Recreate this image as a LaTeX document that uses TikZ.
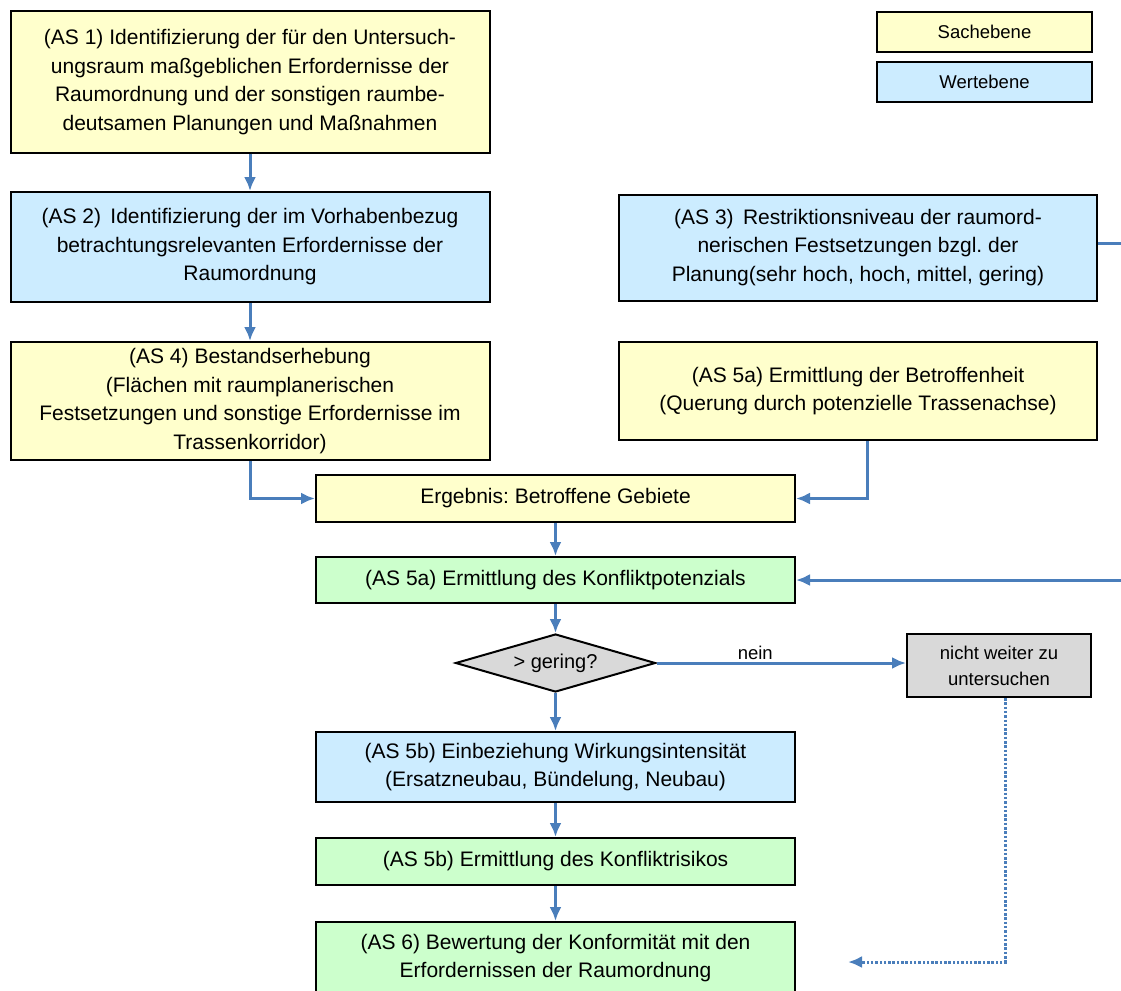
\documentclass[tikz,border=0pt]{standalone}
\usepackage{fontspec}
\setmainfont{Liberation Sans}
\usepackage{xcolor}
\usetikzlibrary{arrows.meta,shapes.geometric,positioning,calc}

\definecolor{sachgelb}{HTML}{FFFFCC}
\definecolor{wertblau}{HTML}{CCECFF}
\definecolor{ergruen}{HTML}{CCFFCC}
\definecolor{kastengrau}{HTML}{D9D9D9}
\definecolor{pfeilblau}{HTML}{4A7EBB}
\frenchspacing

\begin{document}
\begin{tikzpicture}[x=1pt,y=-1pt,>={Latex[length=14pt,width=12pt]},
  box/.style={draw=black,line width=2pt,align=center,inner sep=2pt,
    font=\fontsize{21}{28.5}\selectfont},
  klein/.style={font=\fontsize{18.5}{26}\selectfont},
  sach/.style={box,fill=sachgelb},
  wert/.style={box,fill=wertblau},
  ergebnis/.style={box,fill=ergruen},
  pfeil/.style={->,draw=pfeilblau,line width=3pt}]
  \clip (0,0) rectangle (1121,990);
  \useasboundingbox (0,0) rectangle (1121,990);
  % Legende
  \node[sach,klein,minimum width=215,minimum height=40] (legsach) at (984.5,32) {Sachebene};
  \node[wert,klein,minimum width=215,minimum height=40] (legwert) at (984.5,82) {Wertebene};
  % linke Spalte
  \node[sach,minimum width=479,minimum height=141] (as1) at (250,82)
    {(AS 1) Identifizierung der für den Untersuch-\\ungsraum maßgeblichen Erfordernisse der\\Raumordnung und der sonstigen raumbe-\\deutsamen Planungen und Maßnahmen};
  \node[wert,minimum width=479,minimum height=110] (as2) at (250,247)
    {(AS 2)\, Identifizierung der im Vorhabenbezug\\betrachtungsrelevanten Erfordernisse der\\Raumordnung};
  \node[sach,minimum width=479,minimum height=118] (as4) at (250,401)
    {(AS 4) Bestandserhebung\\(Flächen mit raumplanerischen\\Festsetzungen und sonstige Erfordernisse im\\Trassenkorridor)};
  % rechte Spalte
  \node[wert,minimum width=478,minimum height=106] (as3) at (858,247.5)
    {(AS 3)\, Restriktionsniveau der raumord-\\nerischen Festsetzungen bzgl. der\\Planung(sehr hoch, hoch, mittel, gering)};
  \node[sach,minimum width=478,minimum height=98] (as5a) at (858,391)
    {(AS 5a) Ermittlung der Betroffenheit\\(Querung durch potenzielle Trassenachse)};
  % mittlere Kette
  \node[sach,minimum width=479,minimum height=47] (erg) at (555.5,498.5) {Ergebnis: Betroffene Gebiete};
  \node[ergebnis,minimum width=479,minimum height=46] (konf) at (555.5,580) {(AS 5a) Ermittlung des Konfliktpotenzials};
  \node[draw=black,line width=2pt,fill=kastengrau,diamond,aspect=3.4,inner sep=0pt,
    minimum width=200,minimum height=58,font=\fontsize{20}{26}\selectfont] (raute) at (555.5,663) {> gering?};
  \node[box,klein,fill=kastengrau,minimum width=184,minimum height=63] (nicht) at (999,665.5)
    {nicht weiter zu\\untersuchen};
  \node[wert,minimum width=479,minimum height=70] (as5b) at (555.5,767)
    {(AS 5b) Einbeziehung Wirkungsintensität\\(Ersatzneubau, Bündelung, Neubau)};
  \node[ergebnis,minimum width=479,minimum height=47] (risiko) at (555.5,861.5) {(AS 5b) Ermittlung des Konfliktrisikos};
  \node[ergebnis,minimum width=479,minimum height=72] (as6) at (555.5,958)
    {(AS 6) Bewertung der Konformität mit den\\Erfordernissen der Raumordnung};
  % Verbindungen
  \draw[pfeil] (as1) -- (as2);
  \draw[pfeil] (as2) -- (as4);
  \draw[pfeil] (as4.south) |- (erg.west);
  \draw[pfeil] ($(as5a.south)+(9,0)$) |- (erg.east);
  \draw[pfeil] (erg) -- (konf);
  \draw[pfeil] (konf) -- (raute);
  \draw[pfeil] (raute) -- (as5b);
  \draw[pfeil] (raute.east) -- (raute.east -| nicht.west) node[midway,above,klein,text=black,xshift=-26pt,yshift=-2pt] {nein};
  \draw[pfeil] (as5b) -- (risiko);
  \draw[pfeil] (risiko) -- (as6);
  \draw[pfeil,-] ($(as3.east)+(0,-4)$) -- ++(40,0);
  \coordinate (rand) at (1130,580);
  \draw[pfeil] (rand) -- (konf.east);
  \coordinate (ziel) at (848,962);
  \draw[pfeil,dash pattern=on 2.5pt off 1.8pt] ($(nicht.south)+(6,0)$) |- (ziel);
\end{tikzpicture}
\end{document}
